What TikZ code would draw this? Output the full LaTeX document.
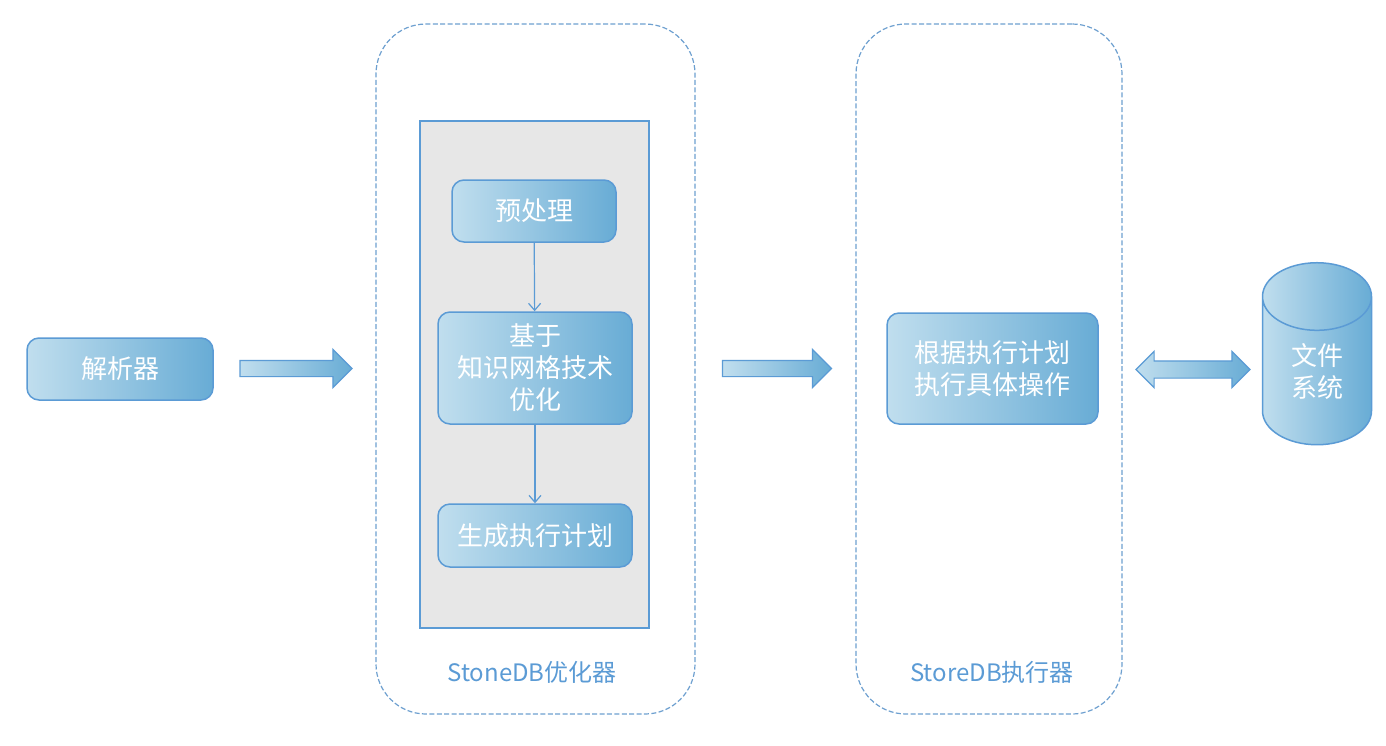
\documentclass[tikz,border=0pt]{standalone}
\usepackage{fontspec}
\setmainfont{Noto Sans CJK SC}
\usetikzlibrary{arrows.meta,shapes.arrows,shapes.geometric}

\definecolor{edgeblue}{RGB}{91,155,213}
\definecolor{dashblue}{RGB}{110,160,208}
\definecolor{fillL}{RGB}{192,222,238}
\definecolor{fillR}{RGB}{104,172,213}
\definecolor{panelgray}{RGB}{231,231,231}

\tikzset{
  stepbox/.style={draw=edgeblue, line width=0.75pt, rounded corners=6pt,
    left color=fillL, right color=fillR, text=white, align=center,
    inner sep=0pt, font=\fontsize{13}{16}\selectfont},
  stage/.style={draw=dashblue, line width=0.6pt, dash pattern=on 2.5pt off 1.2pt,
    rounded corners=25pt, minimum height=345pt, inner sep=0pt},
  stagename/.style={text=edgeblue, font=\fontsize{12}{14}\selectfont},
  fatarrow/.style={single arrow, draw=edgeblue, line width=0.6pt,
    left color=fillL, right color=fillR, single arrow tip angle=90,
    inner sep=0pt, single arrow head extend=5.5pt, minimum height=56pt},
  thin/.style={draw=edgeblue, line width=0.6pt, -{Straight Barb[length=3.5pt,width=6pt]}}
}

\begin{document}
\begin{tikzpicture}[x=0.5pt, y=-0.5pt]
\useasboundingbox[fill=white] (0,0) rectangle (1386,745);

% left: parser
\node[stepbox, minimum width=93pt, minimum height=31pt] (parser) at (120,369) {解析器};
\node[fatarrow] (arrA) at (292,368.5) {\rule{0pt}{7.5pt}};

% optimizer stage
\node[stage, minimum width=159.5pt] (optstage) at (535.5,369) {};
\node[draw=edgeblue, line width=1pt, fill=panelgray, minimum width=114.5pt,
  minimum height=253.5pt, inner sep=0pt] (panel) at (534.5,374.5) {};
\node[stepbox, minimum width=82pt, minimum height=31pt] (prep) at (534,211) {预处理};
\node[stepbox, minimum width=97pt, minimum height=56pt] (kgrid) at (535,368) {基于\\知识网格技术\\优化};
\node[stepbox, minimum width=97pt, minimum height=31.5pt] (plan) at (535,535.5) {生成执行计划};
\draw[thin] (prep) -- (kgrid);
\draw[thin] (kgrid) -- (plan);
\node[stagename] (optname) at (532,672) {StoneDB优化器};

\node[fatarrow, minimum height=54.5pt] (arrB) at (773,368.5) {\rule{0pt}{7.5pt}};

% executor stage
\node[stage, minimum width=133pt] (exestage) at (989,369) {};
\node[stepbox, minimum width=105.5pt, minimum height=55.5pt] (exec) at (992.5,368.5) {根据执行计划\\执行具体操作};
\node[stagename] (exename) at (992,672) {StoreDB执行器};

% file system
\node[double arrow, draw=edgeblue, line width=0.6pt, left color=fillL, right color=fillR,
  double arrow tip angle=90, inner sep=0pt, double arrow head extend=4.75pt,
  minimum height=57pt] (arrC) at (1193,369.5) {\rule{0pt}{8pt}};
\node[cylinder, shape border rotate=90, aspect=1.3, draw=edgeblue, line width=0.75pt,
  left color=fillL, right color=fillR, minimum width=54.5pt, minimum height=91pt,
  inner sep=0pt, text=white, align=center, font=\fontsize{13}{16}\selectfont] (fs) at (1317,371) {文件\\系统};
\end{tikzpicture}
\end{document}
